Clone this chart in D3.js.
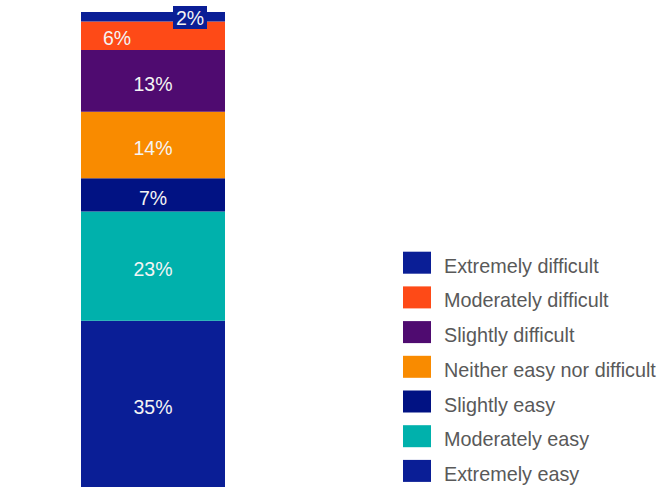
<!DOCTYPE html>
<html>
<head>
<meta charset="utf-8">
<script src="https://cdn.jsdelivr.net/npm/d3@7"></script>
<style>
  html, body { margin: 0; padding: 0; background: #ffffff; }
  svg { display: block; }
  text { font-family: "Liberation Sans", Arial, sans-serif; }
</style>
</head>
<body>
<svg id="chart" width="666" height="487"></svg>
<script>
// Response categories, stacked from the bottom of the bar upward
const categories = [
  "Extremely easy",
  "Moderately easy",
  "Slightly easy",
  "Neither easy nor difficult",
  "Slightly difficult",
  "Moderately difficult",
  "Extremely difficult"
];
// Share of respondents (%) for each category
const values = [35, 23, 7, 14, 13, 6, 2];
const colors = ["#0a1e96", "#00b1ac", "#011283", "#f98b00", "#4f0b70", "#fe4a17", "#0a1e96"];

const svg = d3.select("#chart");

const bar = { left: 81, right: 225, top: 12, bottom: 487 };

// Cumulative stacking
const table = [Object.fromEntries(categories.map((c, i) => [c, values[i]]))];
const stack = d3.stack().keys(categories)(table);

const x = d3.scaleBand().domain(["all"]).range([bar.left, bar.right]).padding(0);
const y = d3.scaleLinear().domain([0, 100]).range([bar.bottom, bar.top]);

const segs = stack.map((s, i) => ({
  key: s.key,
  y0: s[0][0],
  y1: s[0][1],
  value: values[i],
  color: colors[i]
}));

svg.append("g")
  .selectAll("rect")
  .data(segs)
  .join("rect")
  .attr("x", x("all"))
  .attr("width", x.bandwidth())
  .attr("y", d => y(d.y1))
  .attr("height", d => y(d.y0) - y(d.y1))
  .attr("fill", d => d.color);

// Value labels
const labels = svg.append("g")
  .attr("font-size", 19.5)
  .attr("fill", "#f4f4f4")
  .attr("text-anchor", "middle");

segs.forEach(d => {
  const cy = (y(d.y0) + y(d.y1)) / 2;
  let lx = x("all") + x.bandwidth() / 2;
  let ly = cy + 3;
  if (d.key === "Moderately difficult") {
    lx = x("all") + 36;
    ly = cy + 2;
  }
  if (d.key === "Extremely difficult") {
    // small slice: label sits in a callout box over the bar's top edge
    lx = x("all") + x.bandwidth() - 35;
    ly = y(d.y1) + 6;
    labels.append("rect")
      .attr("x", lx - 17)
      .attr("y", ly - 12)
      .attr("width", 34)
      .attr("height", 23)
      .attr("fill", d.color);
  }
  labels.append("text")
    .attr("x", lx)
    .attr("y", ly)
    .attr("dy", "0.35em")
    .text(d.value + "%");
});

// Legend, listed top-down from most difficult to easiest
const legendOrder = segs.slice().reverse();
const legend = svg.append("g").attr("transform", "translate(403,251.7)");
const rowStep = 34.7;
const item = legend.selectAll("g")
  .data(legendOrder)
  .join("g")
  .attr("transform", (d, i) => `translate(0,${i * rowStep})`);

item.append("rect")
  .attr("width", 28)
  .attr("height", 22)
  .attr("fill", d => d.color);

item.append("text")
  .attr("x", 41)
  .attr("y", 21)
  .attr("font-size", 19.8)
  .attr("fill", "#595959")
  .text(d => d.key);
</script>
</body>
</html>
